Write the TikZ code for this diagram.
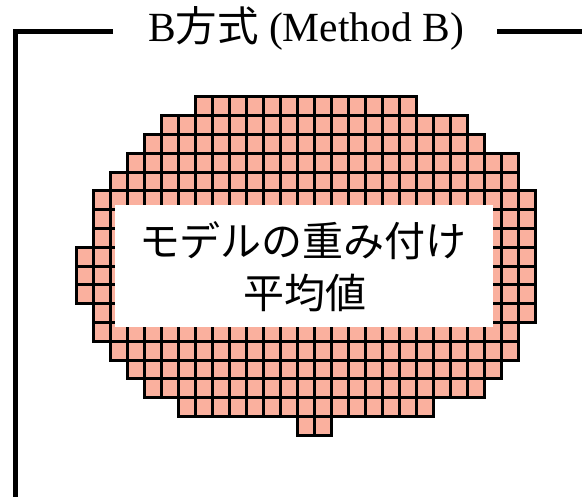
\documentclass[tikz,border=0pt]{standalone}
\usepackage{fontspec}
\setmainfont{Liberation Serif}
\newfontfamily\cjk{Noto Sans CJK JP}
\definecolor{cellfill}{RGB}{250,176,158}
\begin{document}
\begin{tikzpicture}[x=1pt,y=-1pt,
  cellfill/.style={fill=cellfill},
  celledge/.style={draw=black,line width=3pt},
  frameline/.style={draw=black,line width=5pt,line join=miter},
  boxtext/.style={font=\cjk\fontsize{41}{50}\selectfont,inner sep=0pt},
  titletext/.style={font=\fontsize{41.5}{50}\selectfont,inner sep=0pt}]
\useasboundingbox (0,0) rectangle (582,497);
\def\rowspec{0/7/19,1/5/22,2/4/23,3/3/25,4/2/25,5/1/26,6/1/26,7/1/26,8/0/26,9/0/26,10/0/26,11/1/26,12/1/25,13/2/25,14/3/24,15/4/23,16/6/20,17/13/14}
\foreach \r/\a/\b in \rowspec {
  \foreach \c in {\a,...,\b} {
    \fill[cellfill] ({76.7+17*\c},{97+18.8*\r}) rectangle ++(17,18.8);
  }
}
\foreach \r/\a/\b in \rowspec {
  \foreach \c in {\a,...,\b} {
    \draw[celledge] ({76.7+17*\c},{97+18.8*\r}) rectangle ++(17,18.8);
  }
}
\fill[white] (115,205) rectangle (492.7,326.7);
\node[boxtext] (line1) at (303,241) {モデルの重み付け};
\node[boxtext] (line2) at (305,293) {平均値};
\coordinate (ltop) at (113,32);
\coordinate (corner) at (15,32);
\coordinate (lbot) at (15,500);
\coordinate (rstart) at (497,32);
\coordinate (rend) at (585,32);
\draw[frameline] (ltop) -- (corner) -- (lbot);
\draw[frameline] (rstart) -- (rend);
\node[titletext,anchor=base] (title) at (306,41.7) {B{\cjk 方式} (Method B)};
\end{tikzpicture}
\end{document}
